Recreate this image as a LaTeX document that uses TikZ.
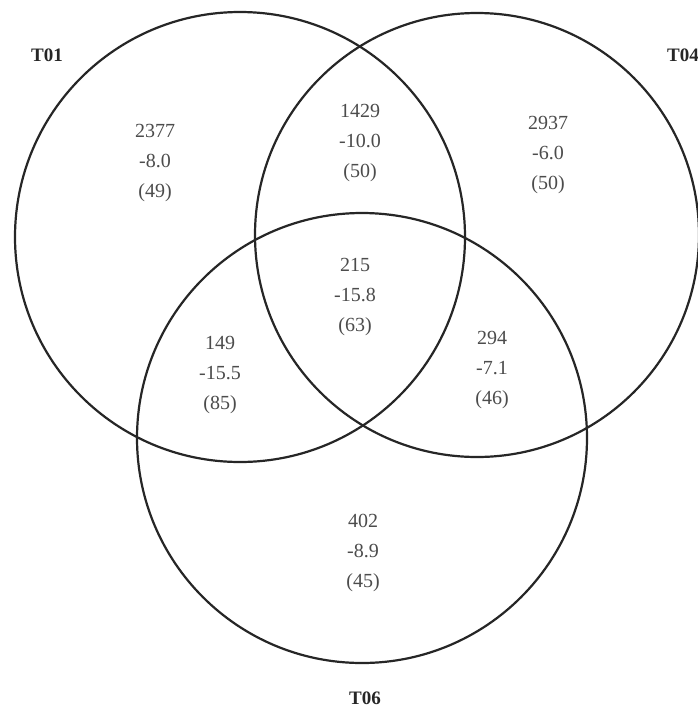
\documentclass[tikz,border=0pt]{standalone}
\usepackage{fontspec}
\setmainfont{Liberation Serif}
\begin{document}
\begin{tikzpicture}[x=1pt,y=-1pt,
  ring/.style={draw=black!85, line width=2.2pt},
  val/.style={align=center, text=black!70, font=\fontsize{20}{30}\selectfont, inner sep=0pt},
  setlab/.style={font=\bfseries\fontsize{19}{22}\selectfont, text=black!85, inner sep=0pt}]
\useasboundingbox (0,0) rectangle (697,710);
\fill[white] (0,0) rectangle (697,710);
\node[ring, circle, minimum size=450pt, inner sep=0pt] (c1) at (240,237) {};
\node[ring, circle, minimum size=444pt, inner sep=0pt] (c2) at (477,235) {};
\node[ring, circle, minimum size=450pt, inner sep=0pt] (c3) at (362,438) {};
\node[setlab] (l1) at (47,55) {T01};
\node[setlab] (l2) at (683,55) {T04};
\node[setlab] (l3) at (365,698) {T06};
\node[val] (a) at (155,163) {2377\\-8.0\\(49)};
\node[val] (ab) at (360,143) {1429\\-10.0\\(50)};
\node[val] (b) at (548,155) {2937\\-6.0\\(50)};
\node[val] (abc) at (355,297) {215\\-15.8\\(63)};
\node[val] (ac) at (220,375) {149\\-15.5\\(85)};
\node[val] (bc) at (492,370) {294\\-7.1\\(46)};
\node[val] (c) at (363,553) {402\\-8.9\\(45)};
\end{tikzpicture}
\end{document}
